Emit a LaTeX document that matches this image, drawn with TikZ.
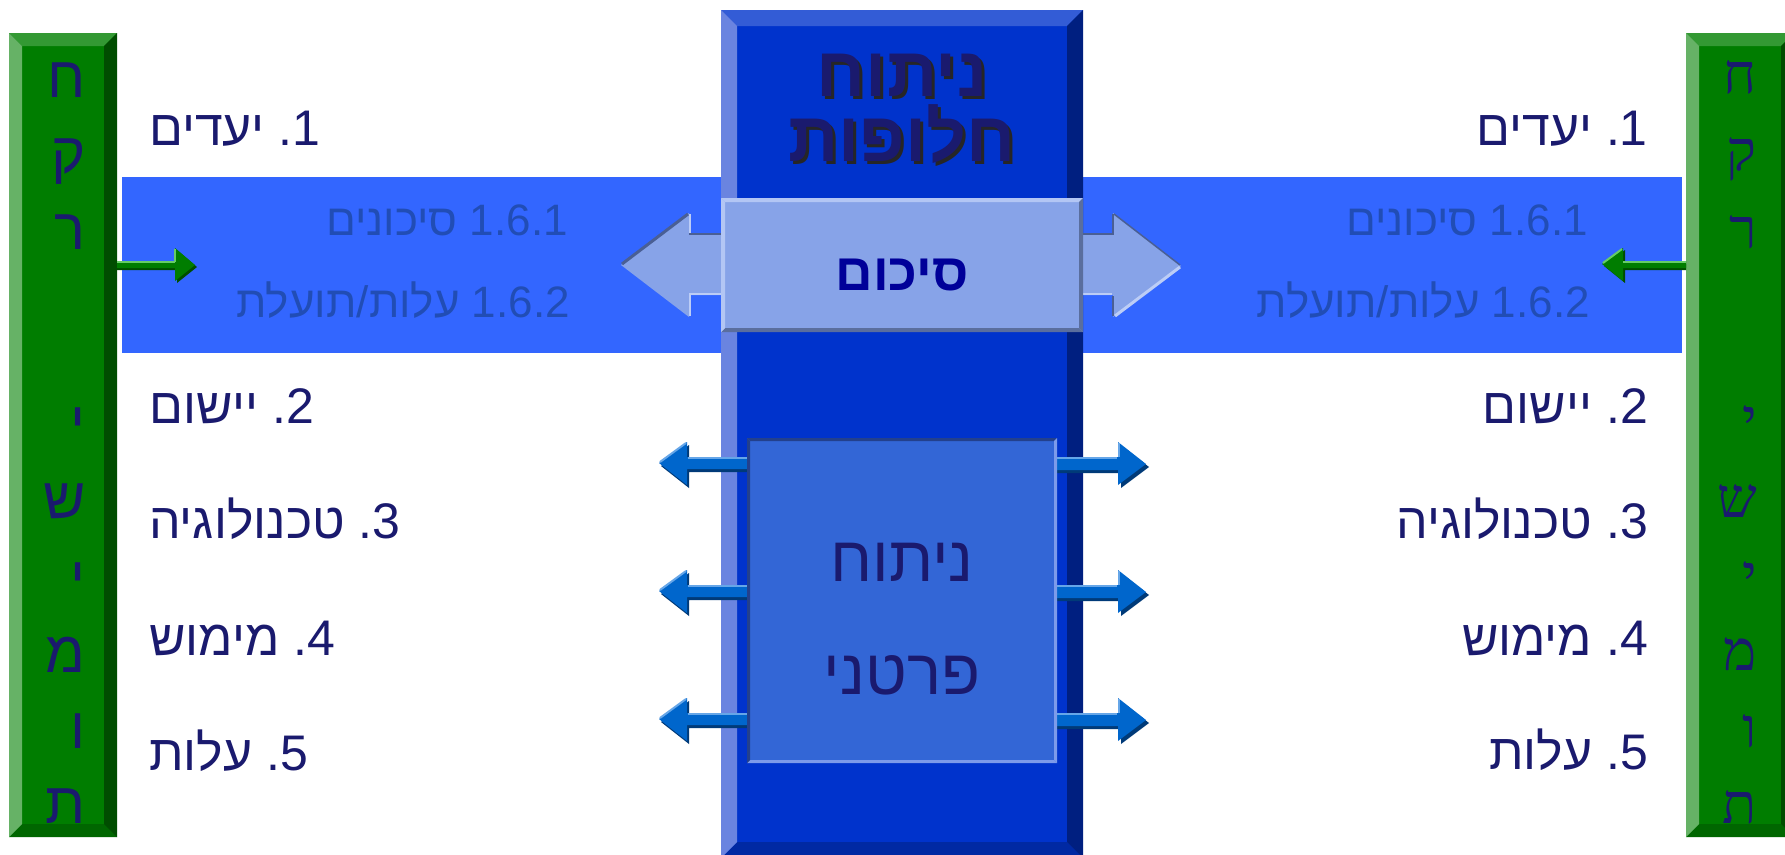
\documentclass[tikz,border=0pt]{standalone}
\usepackage{fontspec}
\setmainfont{Liberation Sans}
\newfontfamily\heb[Script=Hebrew]{Liberation Sans}
\newfontfamily\hebser[Script=Hebrew]{Liberation Serif}
\TeXXeTstate=1
% green bars
\definecolor{gF}{HTML}{007D00}
\definecolor{gT}{HTML}{339933}
\definecolor{gL}{HTML}{66B266}
\definecolor{gR}{HTML}{004D00}
\definecolor{gB}{HTML}{006600}
% central column
\definecolor{cF}{HTML}{0033CC}
\definecolor{cT}{HTML}{335CD6}
\definecolor{cL}{HTML}{6A84E0}
\definecolor{cR}{HTML}{001F80}
\definecolor{cB}{HTML}{0029A3}
% summary box
\definecolor{sF}{HTML}{87A3E8}
\definecolor{sT}{HTML}{B3C6F4}
\definecolor{sL}{HTML}{B3C6F4}
\definecolor{sR}{HTML}{5A6E9E}
\definecolor{sB}{HTML}{5A6E9E}
% partial box
\definecolor{pF}{HTML}{3366D6}
\definecolor{pT}{HTML}{23408C}
\definecolor{pL}{HTML}{23408C}
\definecolor{pR}{HTML}{7D9BEA}
\definecolor{pB}{HTML}{7D9BEA}
\definecolor{band}{HTML}{3366FF}
\definecolor{navy}{HTML}{1A1A6E}
\definecolor{subblue}{HTML}{214DB5}
\definecolor{sumtxt}{HTML}{000099}
\definecolor{arF}{HTML}{0066CC}
\definecolor{arH}{HTML}{66A6E8}
\definecolor{arD}{HTML}{003A78}
\definecolor{edgeD}{HTML}{4A5F94}
\definecolor{edgeL}{HTML}{BCCDF6}
\definecolor{grH}{HTML}{66CC66}
\newcommand\bevbox[6]{%
  \fill[#6F] (#1,#2) rectangle (#3,#4);
  \fill[#6T] (#1,#2) -- (#3,#2) -- ({#3-#5},{#2+#5}) -- ({#1+#5},{#2+#5}) -- cycle;
  \fill[#6B] (#1,#4) -- (#3,#4) -- ({#3-#5},{#4-#5}) -- ({#1+#5},{#4-#5}) -- cycle;
  \fill[#6L] (#1,#2) -- ({#1+#5},{#2+#5}) -- ({#1+#5},{#4-#5}) -- (#1,#4) -- cycle;
  \fill[#6R] (#3,#2) -- ({#3-#5},{#2+#5}) -- ({#3-#5},{#4-#5}) -- (#3,#4) -- cycle;
}
\newcommand\leftsmall[1]{%
  \fill[arD] (661,{#1+3}) -- (689,{#1-18}) -- (689,{#1-3}) -- (747,{#1-3}) -- (747,{#1+9}) -- (689,{#1+9}) -- (689,{#1+25}) -- cycle;
  \fill[arF] (659,#1) -- (687,{#1-21}) -- (687,{#1-6}) -- (747,{#1-6}) -- (747,{#1+6}) -- (687,{#1+6}) -- (687,{#1+22}) -- cycle;
  \draw[arH, line width=2pt] (660,{#1-1}) -- (686,{#1-20});
  \draw[arH, line width=1.5pt] (688,{#1-5}) -- (747,{#1-5});
}
\newcommand\rightsmall[1]{%
  \fill[arD] (1057,{#1-3}) -- (1121,{#1-3}) -- (1121,{#1-18}) -- (1149,{#1+4}) -- (1121,{#1+25}) -- (1121,{#1+10}) -- (1057,{#1+10}) -- cycle;
  \fill[arF] (1057,{#1-6}) -- (1118,{#1-6}) -- (1118,{#1-21}) -- (1146,{#1+1}) -- (1118,{#1+22}) -- (1118,{#1+7}) -- (1057,{#1+7}) -- cycle;
  \draw[arH, line width=2pt] (1119,{#1-20}) -- (1119,{#1-6});
  \draw[arH, line width=1.5pt] (1057,{#1-5}) -- (1117,{#1-5});
}
\newcommand\shadowed[1]{\makebox[0pt][l]{\kern3pt\raisebox{-3pt}{\color{black!85}\beginR #1\endR}}\beginR #1\endR}
\newcommand\titleblock{\vbox{\lineskiplimit=-\maxdimen\baselineskip=65pt
  \hbox to 240pt{\hss\shadowed{ניתוח}\hss}
  \hbox to 240pt{\hss\shadowed{חלופות}\hss}}}
\tikzset{
  listtxt/.style={font=\heb\fontsize{50}{60}\selectfont, text=navy, inner sep=0pt},
  subtxt/.style={font=\heb\fontsize{44}{52}\selectfont, text=subblue, inner sep=0pt, anchor=base east},
  barletL/.style={font=\heb\fontsize{58}{66}\selectfont, text=navy, inner sep=0pt, anchor=base east},
  barletR/.style={font=\hebser\fontsize{56}{66}\selectfont, text=navy, inner sep=0pt, anchor=base east},
  titletxt/.style={font=\heb\bfseries\fontsize{70}{76}\selectfont, text=navy, inner sep=0pt, anchor=base},
  parttxt/.style={font=\heb\fontsize{64}{70}\selectfont, text=navy, inner sep=0pt, anchor=base},
  sumlabel/.style={font=\heb\bfseries\fontsize{52}{60}\selectfont, text=sumtxt, inner sep=0pt, anchor=base},
}
\begin{document}
\begin{tikzpicture}[x=1pt,y=-1pt]
\useasboundingbox (0,0) rectangle (1785,854);
\fill[white] (0,0) rectangle (1785,854);
% blue bands
\fill[band] (122,177) rectangle (721,353);
\fill[band] (1083,177) rectangle (1682,353);
% green bars
\bevbox{9}{33}{117}{837}{13}{g}
\bevbox{1686}{33}{1794}{837}{13}{g}
\coordinate (lbarE) at (117,265);
\coordinate (rbarW) at (1686,265);
% green arrows
\fill[gR] (lbarE) ++(0,0) -- (177,266) -- (177,250) -- (197,267) -- (177,283) -- (177,270) -- (117,270) -- cycle;
\fill[gF] (117,261) -- (175,261) -- (175,248) -- (195,265) -- (175,281) -- (175,268) -- (117,268) -- cycle;
\draw[grH, line width=1.5pt] (117,262) -- (175,262);
\draw[grH, line width=1.5pt] (175,249) -- (175,262);
\fill[gR] (1604,266) -- (1625,250) -- (1625,264) -- (1686,264) -- (1686,270) -- (1625,270) -- (1625,283) -- cycle;
\fill[gF] (rbarW) ++(0,-4) -- (1623,261) -- (1623,248) -- (1602,264) -- (1623,281) -- (1623,268) -- (1686,268) -- cycle;
\draw[grH, line width=2pt] (1603,263) -- (1622,249);
\draw[grH, line width=1.5pt] (1623,262) -- (1686,262);
% central column
\bevbox{721}{10}{1083}{858}{16}{c}
% double block arrow behind summary box
\fill[sF] (621,265) -- (689,213) -- (689,233) -- (1113,233) -- (1113,213) -- (1181,266) -- (1113,317) -- (1113,295) -- (689,295) -- (689,317) -- cycle;
\draw[edgeD, line width=3pt] (622,264) -- (688,214);
\draw[edgeD, line width=2pt] (689,234) -- (721,234);
\draw[edgeL, line width=2pt] (690,214) -- (690,233);
\draw[edgeL, line width=2pt] (690,295) -- (690,316) (689,294) -- (721,294);
\draw[edgeD, line width=2pt] (1083,234) -- (1113,234) -- (1113,214);
\draw[edgeD, line width=1.5pt] (1114,214) -- (1180,265);
\draw[edgeL, line width=3pt] (1180,267) -- (1115,316);
\draw[edgeD, line width=2pt] (1113,316) -- (1113,296);
\draw[edgeL, line width=2pt] (1083,294) -- (1112,294);
% summary box
\bevbox{721}{198}{1083}{332}{4}{s}
\node[sumlabel] (sum) at (902,290) {\beginR סיכום\endR};
% partial analysis box and arrows
\leftsmall{463}
\leftsmall{591}
\leftsmall{719}
\rightsmall{463}
\rightsmall{591}
\rightsmall{719}
\bevbox{747}{438}{1057}{763}{3}{p}
\node[parttxt] (p1) at (902,581) {\beginR ניתוח\endR};
\node[parttxt] (p2) at (902,694) {\beginR פרטני\endR};
% title with shadow (two lines in one node)
\node[titletxt] (title) at (902,161) {\titleblock};
% left list
\node[listtxt, anchor=base west] (l1) at (149,145) {\beginR\beginL 1\endL.\ יעדים\endR};
\node[listtxt, anchor=base west] (l2) at (149,423) {\beginR\beginL 2\endL.\ יישום\endR};
\node[listtxt, anchor=base west] (l3) at (149,538) {\beginR\beginL 3\endL.\ טכנולוגיה\endR};
\node[listtxt, anchor=base west] (l4) at (149,655) {\beginR\beginL 4\endL.\ מימוש\endR};
\node[listtxt, anchor=base west] (l5) at (149,770) {\beginR\beginL 5\endL.\ עלות\endR};
\node[subtxt] (ls1) at (568,235) {\beginR\beginL 1.6.1\endL\ סיכונים\endR};
\node[subtxt] (ls2) at (570,317) {\beginR\beginL 1.6.2\endL\ עלות/תועלת\endR};
% right list
\node[listtxt, anchor=base east] (r1) at (1648,145) {\beginR\beginL 1\endL.\ יעדים\endR};
\node[listtxt, anchor=base east] (r2) at (1648,423) {\beginR\beginL 2\endL.\ יישום\endR};
\node[listtxt, anchor=base east] (r3) at (1648,538) {\beginR\beginL 3\endL.\ טכנולוגיה\endR};
\node[listtxt, anchor=base east] (r4) at (1648,655) {\beginR\beginL 4\endL.\ מימוש\endR};
\node[listtxt, anchor=base east] (r5) at (1648,769) {\beginR\beginL 5\endL.\ עלות\endR};
\node[subtxt] (rs1) at (1588,235) {\beginR\beginL 1.6.1\endL\ סיכונים\endR};
\node[subtxt] (rs2) at (1590,317) {\beginR\beginL 1.6.2\endL\ עלות/תועלת\endR};
% left bar letters
\node[barletL] (lb1) at (86,97) {ח};
\node[barletL] (lb2) at (86,173) {ק};
\node[barletL] (lb3) at (86,249) {ר};
\node[barletL] (lb4) at (86,442) {י};
\node[barletL] (lb5) at (86,518) {ש};
\node[barletL] (lb6) at (86,597) {י};
\node[barletL] (lb7) at (86,672) {מ};
\node[barletL] (lb8) at (86,748) {ו};
\node[barletL] (lb9) at (86,823) {ת};
% right bar letters
\node[barletR] (rb1) at (1757,93) {ח};
\node[barletR] (rb2) at (1757,170) {ק};
\node[barletR] (rb3) at (1757,248) {ר};
\node[barletR] (rb4) at (1757,438) {י};
\node[barletR] (rb5) at (1757,517) {ש};
\node[barletR] (rb6) at (1757,594) {י};
\node[barletR] (rb7) at (1757,670) {מ};
\node[barletR] (rb8) at (1757,747) {ו};
\node[barletR] (rb9) at (1757,823) {ת};
\end{tikzpicture}
\end{document}
